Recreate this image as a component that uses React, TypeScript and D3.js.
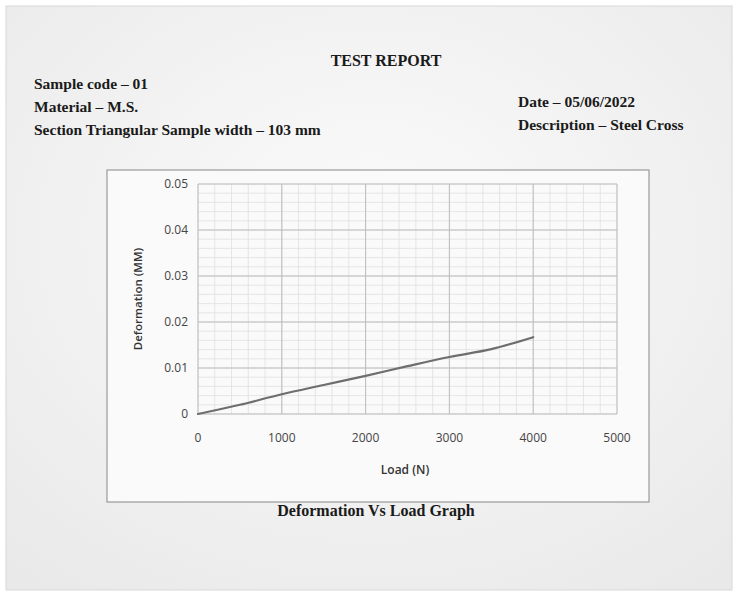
import React from "react";
import * as d3 from "d3";

const loads = [0, 500, 1000, 1500, 2000, 2500, 3000, 3500, 4000];
const deformations = [0, 0.002, 0.0043, 0.0063, 0.0083, 0.0104, 0.0124, 0.0141, 0.0167];
const xTicks = [0, 1000, 2000, 3000, 4000, 5000];
const yTicks = [0, 0.01, 0.02, 0.03, 0.04, 0.05];
const headerLeft = ["Sample code – 01", "Material – M.S.", "Section Triangular Sample width – 103 mm"];
const headerRight = ["Date – 05/06/2022", "Description – Steel Cross"];

export default function App() {
  const W = 738, H = 596;
  const x = d3.scaleLinear().domain([0, 5000]).range([198, 617]);
  const y = d3.scaleLinear().domain([0, 0.05]).range([414, 184]);
  const minorX = d3.range(0, 5001, 200);
  const minorY = d3.range(0, 0.05001, 0.002);
  const line = d3
    .line<number>()
    .x((_, i) => x(loads[i]))
    .y((d) => y(d))
    .curve(d3.curveMonotoneX);
  const serif = "'Liberation Serif', 'DejaVu Serif', serif";
  const sans = "'Open Sans', 'Noto Sans', sans-serif";
  return (
    <svg
      width={W}
      height={H}
      style={{ position: "absolute", left: 0, top: 0 }}
      xmlns="http://www.w3.org/2000/svg"
    >
      <defs>
        <radialGradient id="paper" cx="50%" cy="40%" r="75%">
          <stop offset="0%" stopColor="#fbfbfb" />
          <stop offset="100%" stopColor="#e9e9e9" />
        </radialGradient>
      </defs>
      <rect x={0} y={0} width={W} height={H} fill="#ffffff" />
      <rect x={6} y={6} width={W - 12} height={H - 12} fill="url(#paper)" stroke="#d8d8d8" />
      <text x={386} y={66} textAnchor="middle" fontFamily={serif} fontWeight="bold" fontSize={16} fill="#1a1a1a">
        TEST REPORT
      </text>
      {headerLeft.map((t, i) => (
        <text key={t} x={34} y={89 + i * 23} fontFamily={serif} fontWeight="bold" fontSize={15.5} fill="#1a1a1a">
          {t}
        </text>
      ))}
      {headerRight.map((t, i) => (
        <text key={t} x={518} y={107 + i * 23} fontFamily={serif} fontWeight="bold" fontSize={15.5} fill="#1a1a1a">
          {t}
        </text>
      ))}
      <rect x={107} y={170} width={542} height={332} fill="#fafafa" stroke="#9a9a9a" strokeWidth={1.2} />
      {minorX.map((v) => (
        <line key={"mx" + v} x1={x(v)} x2={x(v)} y1={y(0.05)} y2={y(0)} stroke="#e0e0e0" strokeWidth={0.8} />
      ))}
      {minorY.map((v) => (
        <line key={"my" + v} x1={x(0)} x2={x(5000)} y1={y(v)} y2={y(v)} stroke="#e0e0e0" strokeWidth={0.8} />
      ))}
      {xTicks.map((v) => (
        <line key={"gx" + v} x1={x(v)} x2={x(v)} y1={y(0.05)} y2={y(0)} stroke="#bdbdbd" strokeWidth={1} />
      ))}
      {yTicks.map((v) => (
        <line key={"gy" + v} x1={x(0)} x2={x(5000)} y1={y(v)} y2={y(v)} stroke="#bdbdbd" strokeWidth={1} />
      ))}
      <path d={line(deformations) || ""} fill="none" stroke="#6e6e6e" strokeWidth={2.2} strokeLinecap="round" />
      {yTicks.map((v) => (
        <text key={"ty" + v} x={188} y={y(v) + 4} textAnchor="end" fontFamily={sans} fontSize={12} fill="#444">
          {v === 0 ? "0" : d3.format(".2f")(v)}
        </text>
      ))}
      {xTicks.map((v) => (
        <text key={"tx" + v} x={x(v)} y={442} textAnchor="middle" fontFamily={sans} fontSize={12} fill="#444">
          {v}
        </text>
      ))}
      <text x={405} y={474} textAnchor="middle" fontFamily={sans} fontSize={12} fontWeight="600" fill="#333">
        Load (N)
      </text>
      <text
        transform={`translate(142, ${y(0.025)}) rotate(-90)`}
        textAnchor="middle"
        fontFamily={sans}
        fontSize={11.5}
        fontWeight="600"
        fill="#333"
      >
        Deformation (MM)
      </text>
      <text x={376} y={516} textAnchor="middle" fontFamily={serif} fontWeight="bold" fontSize={16} fill="#1a1a1a">
        Deformation Vs Load Graph
      </text>
    </svg>
  );
}
